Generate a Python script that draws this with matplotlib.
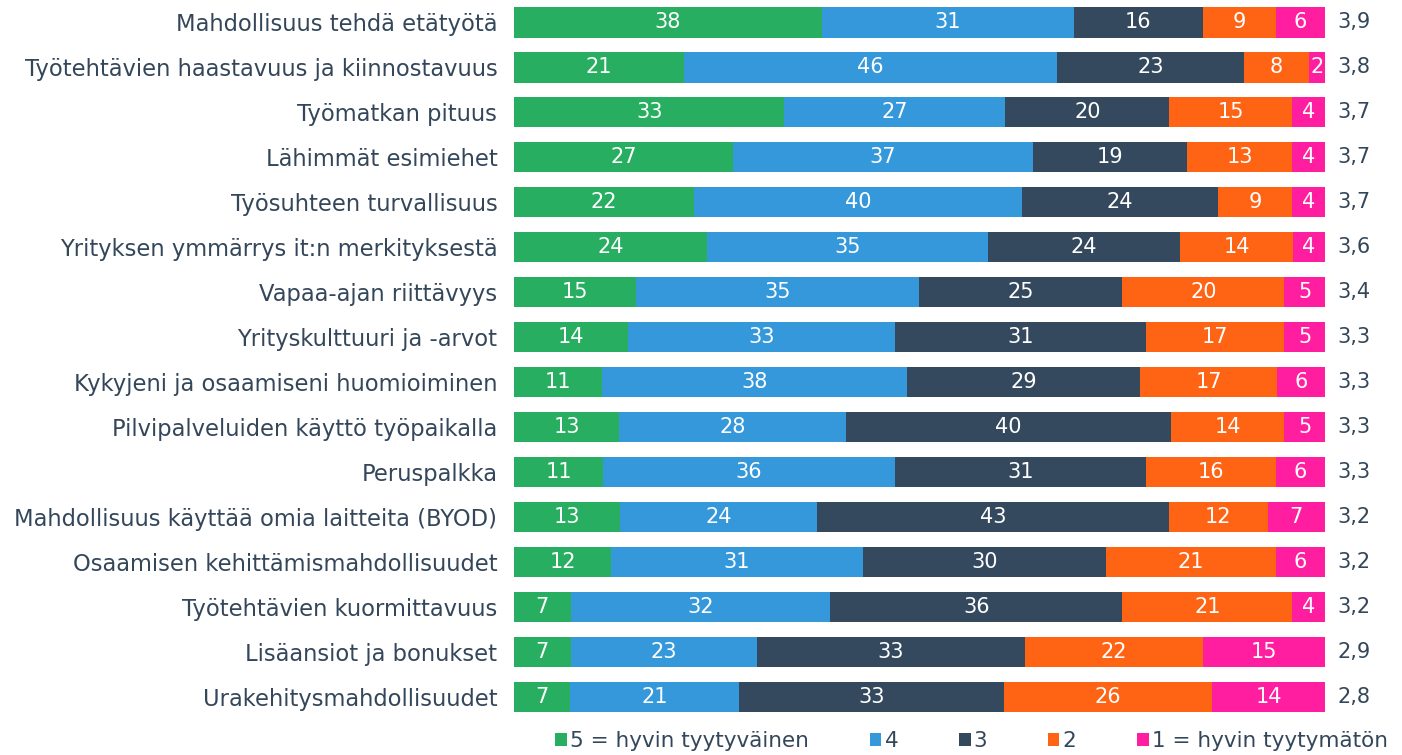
import numpy as np
import matplotlib
matplotlib.use("Agg")
from matplotlib import pyplot as plt

categories = [
    "Mahdollisuus tehdä etätyötä",
    "Työtehtävien haastavuus ja kiinnostavuus",
    "Työmatkan pituus",
    "Lähimmät esimiehet",
    "Työsuhteen turvallisuus",
    "Yrityksen ymmärrys it:n merkityksestä",
    "Vapaa-ajan riittävyys",
    "Yrityskulttuuri ja -arvot",
    "Kykyjeni ja osaamiseni huomioiminen",
    "Pilvipalveluiden käyttö työpaikalla",
    "Peruspalkka",
    "Mahdollisuus käyttää omia laitteita (BYOD)",
    "Osaamisen kehittämismahdollisuudet",
    "Työtehtävien kuormittavuus",
    "Lisäansiot ja bonukset",
    "Urakehitysmahdollisuudet",
]
s5 = [38, 21, 33, 27, 22, 24, 15, 14, 11, 13, 11, 13, 12, 7, 7, 7]
s4 = [31, 46, 27, 37, 40, 35, 35, 33, 38, 28, 36, 24, 31, 32, 23, 21]
s3 = [16, 23, 20, 19, 24, 24, 25, 31, 29, 40, 31, 43, 30, 36, 33, 33]
s2 = [9, 8, 15, 13, 9, 14, 20, 17, 17, 14, 16, 12, 21, 21, 22, 26]
s1 = [6, 2, 4, 4, 4, 4, 5, 5, 6, 5, 6, 7, 6, 4, 15, 14]
averages = ["3,9", "3,8", "3,7", "3,7", "3,7", "3,6", "3,4", "3,3", "3,3", "3,3",
            "3,3", "3,2", "3,2", "3,2", "2,9", "2,8"]
series_names = ["5 = hyvin tyytyväinen", "4", "3", "2", "1 = hyvin tyytymätön"]
colors = ["#27ae60", "#3498db", "#34495e", "#ff6314", "#ff1ea0"]

text_col = "#34475a"
plt.rcParams["font.family"] = ["DejaVu Sans"]

data = np.array([s5, s4, s3, s2, s1], dtype=float)
shares = data / data.sum(axis=0) * 100  # 100 % stacked

fig = plt.figure(figsize=(14.02, 7.55), dpi=100)
ax = fig.add_axes([0.3666, 0.047, 0.5784, 0.953])

y = np.arange(len(categories))
left = np.zeros(len(categories))
for i in range(5):
    bars = ax.barh(y, shares[i], left=left, height=0.67, color=colors[i],
                   label=series_names[i], linewidth=0)
    for j, b in enumerate(bars):
        ax.text(left[j] + shares[i][j] / 2, y[j], f"{int(data[i][j])}",
                ha="center", va="center", color="white", fontsize=15)
    left += shares[i]

for j, a in enumerate(averages):
    ax.text(101.6, y[j], a, ha="left", va="center", color=text_col, fontsize=15)

ax.set_xlim(0, 100)
ax.set_ylim(len(categories) - 0.5, -0.5)
ax.set_yticks(y)
ax.set_yticklabels(categories, fontsize=16.3, color=text_col)
ax.tick_params(axis="y", length=0, pad=12)
ax.set_xticks([])
for sp in ax.spines.values():
    sp.set_visible(False)

fig.legend(loc="lower center", bbox_to_anchor=(0.693, -0.02), ncol=5, frameon=False,
           fontsize=15.5, handlelength=0.55, handleheight=0.55, handletextpad=0.15,
           columnspacing=2.8, labelcolor=text_col)

fig.savefig("out.png", dpi=100)
